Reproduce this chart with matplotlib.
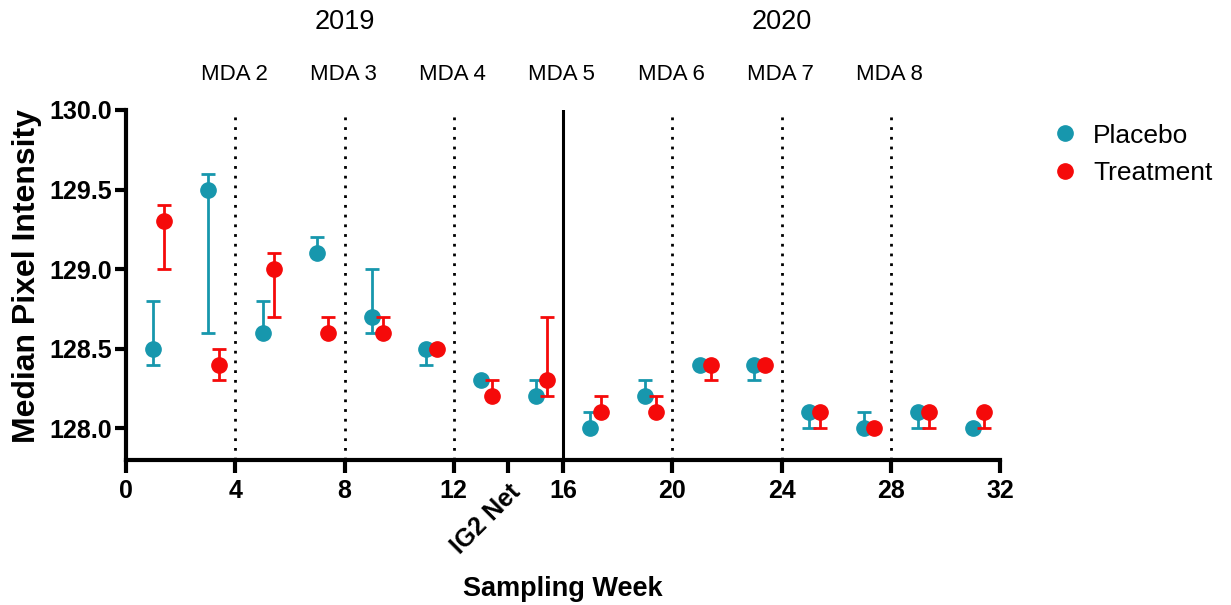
import numpy as np
import matplotlib
matplotlib.use("Agg")
import matplotlib.pyplot as plt
from matplotlib.lines import Line2D

plt.rcParams['font.family'] = ['Liberation Sans', 'DejaVu Sans']

# median with lower / upper quartile per sampling week
weeks = [1, 3, 5, 7, 9, 11, 13, 15, 17, 19, 21, 23, 25, 27, 29, 31]
placebo_med = [128.5, 129.5, 128.6, 129.1, 128.7, 128.5, 128.3, 128.2,
               128.0, 128.2, 128.4, 128.4, 128.1, 128.0, 128.1, 128.0]
placebo_lo = [128.4, 128.6, 128.6, 129.1, 128.6, 128.4, 128.3, 128.2,
              128.0, 128.2, 128.4, 128.3, 128.0, 128.0, 128.0, 128.0]
placebo_hi = [128.8, 129.6, 128.8, 129.2, 129.0, 128.5, 128.3, 128.3,
              128.1, 128.3, 128.4, 128.4, 128.1, 128.1, 128.1, 128.0]
treat_med = [129.3, 128.4, 129.0, 128.6, 128.6, 128.5, 128.2, 128.3,
             128.1, 128.1, 128.4, 128.4, 128.1, 128.0, 128.1, 128.1]
treat_lo = [129.0, 128.3, 128.7, 128.6, 128.6, 128.5, 128.2, 128.2,
            128.1, 128.1, 128.3, 128.4, 128.0, 128.0, 128.0, 128.0]
treat_hi = [129.4, 128.5, 129.1, 128.7, 128.7, 128.5, 128.3, 128.7,
            128.2, 128.2, 128.4, 128.4, 128.1, 128.0, 128.1, 128.1]

mda_weeks = [4, 8, 12, 16, 20, 24, 28]
mda_labels = ["MDA 2", "MDA 3", "MDA 4", "MDA 5", "MDA 6", "MDA 7", "MDA 8"]
net_week = 16
years = ["2019", "2020"]
year_pos = [8, 24]

teal = "#1797AD"
red = "#F50A0A"

fig = plt.figure(figsize=(12.31, 6.05), dpi=100)
ax = fig.add_axes([0.1024, 0.2397, 0.7100, 0.5785])

def err(med, lo, hi):
    med = np.array(med)
    return [med - np.array(lo), np.array(hi) - med]

x = np.array(weeks, dtype=float)
ax.errorbar(x, placebo_med, yerr=err(placebo_med, placebo_lo, placebo_hi),
            fmt='o', color=teal, ms=11, elinewidth=2, capsize=5,
            capthick=2, zorder=3)
ax.errorbar(x + 0.4, treat_med, yerr=err(treat_med, treat_lo, treat_hi),
            fmt='o', color=red, ms=11, elinewidth=2, capsize=5,
            capthick=2, zorder=4)

# MDA rounds as dotted lines, the net switch as a solid one
for w, lab in zip(mda_weeks, mda_labels):
    if w == net_week:
        ax.axvline(w, color='black', lw=2.2, zorder=1)
    else:
        ax.axvline(w, color='black', lw=2, ls=(0, (1, 2.5)), zorder=1)
    ax.text(w - 0.05, 1.1, lab, transform=ax.get_xaxis_transform(),
            ha='center', va='center', fontsize=16)

for yr, p in zip(years, year_pos):
    ax.text(p, 1.25, yr, transform=ax.get_xaxis_transform(),
            ha='center', va='center', fontsize=19.5)

ax.set_xlim(0, 32)
ax.set_ylim(127.8, 130.0)
ax.set_xticks([0, 4, 8, 12, 16, 20, 24, 28, 32])
ax.set_xticks([14], minor=True)
ax.set_xticklabels(['0', '4', '8', '12', '16', '20', '24', '28', '32'],
                   fontsize=18, fontweight='bold')
ax.set_xticklabels(['IG2 Net'], minor=True, fontsize=18, fontweight='bold',
                   rotation=45, ha='right', va='top', rotation_mode='anchor')
ax.set_yticks([128.0, 128.5, 129.0, 129.5, 130.0])
ax.set_yticklabels(['128.0', '128.5', '129.0', '129.5', '130.0'],
                   fontsize=18, fontweight='bold')

for side in ['top', 'right']:
    ax.spines[side].set_visible(False)
for side in ['left', 'bottom']:
    ax.spines[side].set_linewidth(3)
ax.tick_params(axis='x', which='both', length=9, width=3, pad=5)
ax.tick_params(axis='y', length=8, width=3, pad=2)

ax.set_xlabel("Sampling Week", fontsize=19.5, fontweight='bold', va='center')
ax.xaxis.set_label_coords(0.5, -0.369)
ax.set_ylabel("Median Pixel Intensity", fontsize=23, fontweight='bold',
              va='center')
ax.yaxis.set_label_coords(-0.113, 0.526)

handles = [Line2D([], [], ls='none', marker='o', color=teal, ms=11),
           Line2D([], [], ls='none', marker='o', color=red, ms=11)]
fig.legend(handles, ["Placebo", "Treatment"], loc='center left',
           bbox_to_anchor=(0.8546, 0.745), frameon=False, fontsize=19,
           handlelength=1.0, handletextpad=0.55, labelspacing=0.5,
           borderpad=0, borderaxespad=0)

fig.savefig("out.png", dpi=100)
